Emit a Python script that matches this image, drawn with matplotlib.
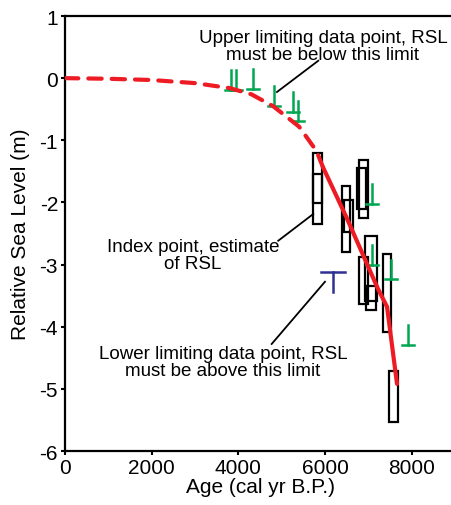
import matplotlib
matplotlib.use('Agg')
import matplotlib.pyplot as plt
from matplotlib.patches import Rectangle

plt.rcParams['font.family'] = ['Liberation Sans', 'DejaVu Sans']
plt.rcParams['axes.unicode_minus'] = False

# sea-level curve (dashed = poorly constrained, solid = constrained)
curve_dash_age = [0, 1000, 2000, 3000, 3800, 4300, 4800, 5400, 5800, 5950]
curve_dash_rsl = [0, -0.01, -0.03, -0.08, -0.16, -0.26, -0.45, -0.78, -1.17, -1.43]
curve_solid_age = [5950, 6500, 7220, 7430, 7660]
curve_solid_rsl = [-1.43, -2.25, -3.39, -3.68, -4.92]

# index points (boxes)
idx_age = [5830, 5830, 6480, 6540, 6890, 6840, 7060, 6895, 7060, 7420, 7580]
idx_age_err = [104, 104, 92, 104, 104, 104, 138, 104, 115, 92, 104]
idx_rsl_top = [-1.20, -1.54, -1.74, -1.96, -1.32, -1.45, -2.54, -2.88, -3.34, -2.83, -4.72]
idx_rsl_bot = [-2.01, -2.35, -2.79, -2.47, -2.25, -2.11, -3.58, -3.63, -3.73, -4.09, -5.54]

# upper limiting points (green)
up_age = [3822, 3945, 4344, 4821, 5266, 5368, 7075, 7082, 7513, 7919]
up_rsl = [-0.19, -0.19, -0.175, -0.45, -0.55, -0.685, -2.025, -3.01, -3.24, -4.29]

# lower limiting point (blue)
low_age = [6175]
low_rsl = [-3.125]

fig = plt.figure(figsize=(4.51, 5.06), dpi=100)
ax = fig.add_axes([0.1441, 0.1067, 0.865, 0.8597])

stem = 0.32
green = '#00a651'
blue = '#2e3192'
red = '#ed1c24'

for a, e, t, b in zip(idx_age, idx_age_err, idx_rsl_top, idx_rsl_bot):
    ax.add_patch(Rectangle((a - e, b), 2 * e, t - b, fill=False,
                           edgecolor='black', lw=1.6, zorder=2))

for a, r in zip(up_age, up_rsl):
    ax.plot([a, a], [r, r + stem], color=green, lw=1.8, zorder=3)
    ax.plot([a - 140, a + 140], [r, r], color=green, lw=1.8, zorder=3)

for a, r in zip(low_age, low_rsl):
    ax.plot([a, a], [r, r - stem], color=blue, lw=1.8, zorder=3)
    ax.plot([a - 280, a + 280], [r, r], color=blue, lw=1.8, zorder=3)

ax.plot(curve_dash_age, curve_dash_rsl, color=red, lw=3, ls=(0, (3.2, 2.4)),
        zorder=4, solid_capstyle='round', dash_capstyle='round')
ax.plot(curve_solid_age, curve_solid_rsl, color=red, lw=3, zorder=4,
        solid_capstyle='round')

# annotations
ax.text(5952, 0.525, 'Upper limiting data point, RSL\nmust be below this limit',
        ha='center', va='center', fontsize=13.5, linespacing=1.0)
ax.plot([5843, 4890], [0.28, -0.223], color='black', lw=1.3)
ax.text(2953, -2.846, 'Index point, estimate\nof RSL',
        ha='center', va='center', fontsize=13.5, linespacing=1.0)
ax.plot([4920, 5728], [-2.616, -2.186], color='black', lw=1.3)
ax.text(3645, -4.573, 'Lower limiting data point, RSL\nmust be above this limit',
        ha='center', va='center', fontsize=13.5, linespacing=1.0)
ax.plot([4768, 5998], [-4.278, -3.276], color='black', lw=1.3)

ax.set_xlim(0, 9000)
ax.set_ylim(-6, 1)
ax.set_xticks([0, 2000, 4000, 6000, 8000])
ax.set_yticks(range(-6, 2))
ax.tick_params(direction='out', length=3, width=1.5, labelsize=15, pad=2)
for s in ['left', 'bottom', 'top']:
    ax.spines[s].set_linewidth(1.6)
ax.spines['right'].set_visible(False)
ax.set_xlabel('Age (cal yr B.P.)', fontsize=15, labelpad=0)
ax.set_ylabel('Relative Sea Level (m)', fontsize=15, labelpad=7)

fig.savefig('out.png', dpi=100)
